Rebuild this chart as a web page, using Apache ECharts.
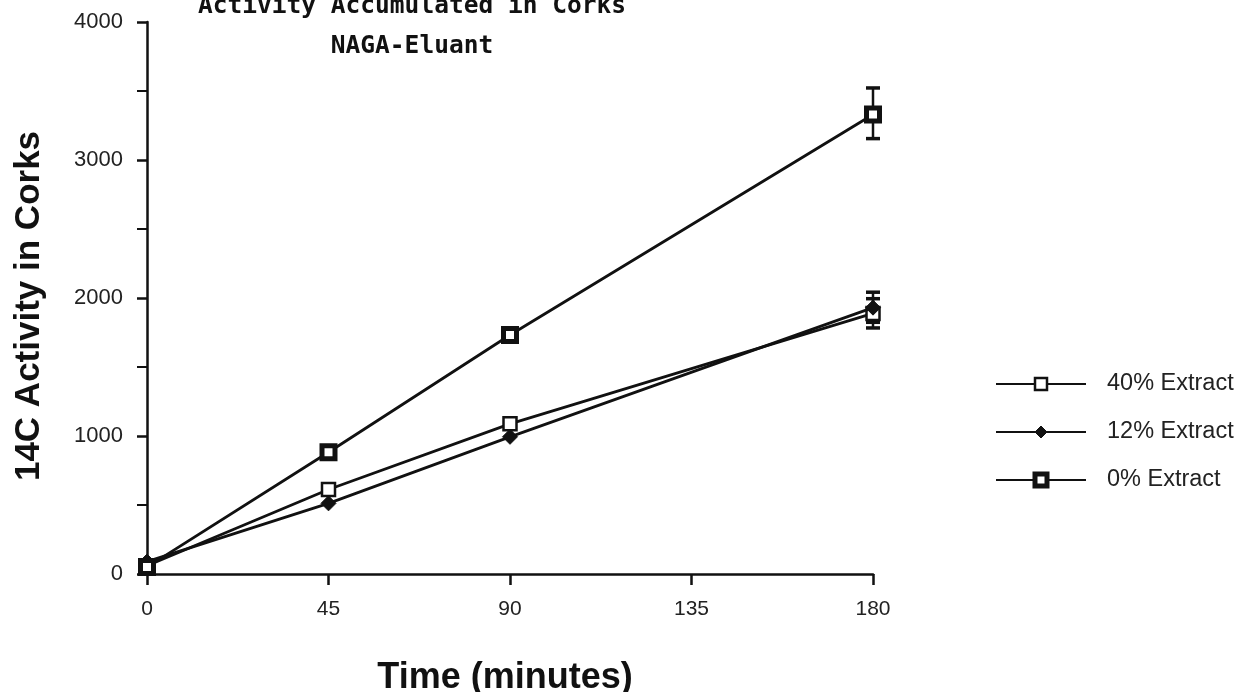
<!DOCTYPE html>
<html>
<head>
<meta charset="utf-8">
<script src="https://cdn.jsdelivr.net/npm/echarts@6/dist/echarts.min.js"></script>
<style>
html,body{margin:0;padding:0;background:#fff;}
#chart{width:1244px;height:692px;}
</style>
</head>
<body>
<div id="chart"></div>
<script>
// ---- data ----
var timeMinutes = [0, 45, 90, 180];
var xTicks = [0, 45, 90, 135, 180];
var yTicks = [0, 1000, 2000, 3000, 4000];
var seriesNames = ['40% Extract', '12% Extract', '0% Extract'];
var extract40 = [60, 612, 1088, 1888];
var extract12 = [90, 512, 994, 1930];
var extract0 = [50, 882, 1732, 3330];
// error bars [time, low, high]
var err40 = [[180, 1783, 1995]];
var err12 = [[180, 1824, 2042]];
var err0 = [[180, 3155, 3522]];

var ink = '#111';

function pairs(xs, ys) { return xs.map(function (x, i) { return [x, ys[i]]; }); }

function errSeries(data) {
  return {
    type: 'custom',
    silent: true,
    z: 1,
    data: data,
    encode: { x: 0, y: [1, 2] },
    renderItem: function (params, api) {
      var x = api.value(0);
      var lo = api.coord([x, api.value(1)]);
      var hi = api.coord([x, api.value(2)]);
      var w = 7;
      return {
        type: 'group',
        children: [
          { type: 'line', shape: { x1: hi[0], y1: hi[1], x2: lo[0], y2: lo[1] }, style: { stroke: ink, lineWidth: 2.5 } },
          { type: 'line', shape: { x1: hi[0] - w, y1: hi[1], x2: hi[0] + w, y2: hi[1] }, style: { stroke: ink, lineWidth: 3.5 } },
          { type: 'line', shape: { x1: lo[0] - w, y1: lo[1], x2: lo[0] + w, y2: lo[1] }, style: { stroke: ink, lineWidth: 3.5 } }
        ]
      };
    }
  };
}

var style40 = { color: '#fff', borderColor: ink, borderWidth: 2.5 };
var style12 = { color: ink, borderColor: ink, borderWidth: 1 };
var style0 = { color: '#fff', borderColor: ink, borderWidth: 5 };

var chart = echarts.init(document.getElementById('chart'));
chart.setOption({
  animation: false,
  backgroundColor: '#fff',
  title: {
    text: 'Activity Accumulated in Corks\nNAGA-Eluant',
    left: 407,
    textAlign: 'center',
    top: -18,
    textStyle: {
      fontFamily: 'DejaVu Sans Mono',
      fontWeight: 'bold',
      fontSize: 24.5,
      lineHeight: 40,
      color: ink
    }
  },
  legend: {
    orient: 'vertical',
    left: 990,
    top: 367,
    itemWidth: 90,
    itemHeight: 15,
    itemGap: 24,
    data: [
      { name: seriesNames[0], itemStyle: style40 },
      { name: seriesNames[1], itemStyle: style12 },
      { name: seriesNames[2], itemStyle: style0 }
    ],
    textStyle: {
      fontFamily: 'Liberation Sans',
      fontSize: 23.5,
      lineHeight: 23,
      color: '#222',
      padding: [0, 0, 0, 16]
    }
  },
  grid: { left: 147, right: 371, top: 22, bottom: 118, containLabel: false, outerBoundsMode: 'none' },
  xAxis: {
    type: 'value',
    min: 0,
    max: 180,
    interval: 45,
    name: 'Time (minutes)',
    nameLocation: 'middle',
    nameGap: 86,
    nameTextStyle: { fontFamily: 'Liberation Sans', fontWeight: 'bold', fontSize: 36, color: ink, padding: [0, 10, 0, 0] },
    axisLine: { lineStyle: { color: ink, width: 2.5 } },
    axisTick: { show: true, inside: false, length: 11, lineStyle: { color: ink, width: 2.5 } },
    axisLabel: {
      fontFamily: 'Liberation Sans', fontSize: 21, color: '#222', margin: 25,
      formatter: function (v) { return xTicks.indexOf(v) >= 0 ? String(v) : ''; }
    },
    splitLine: { show: false }
  },
  yAxis: {
    type: 'value',
    min: 0,
    max: 4000,
    interval: 1000,
    name: '14C Activity in Corks',
    nameLocation: 'middle',
    nameGap: 100,
    nameRotate: 90,
    nameTextStyle: { fontFamily: 'Liberation Sans', fontWeight: 'bold', fontSize: 35, color: ink, padding: [0, 16, 0, 0] },
    axisLine: { show: true, lineStyle: { color: ink, width: 2.5 } },
    axisTick: { show: true, inside: false, length: 10, lineStyle: { color: ink, width: 2.5 } },
    minorTick: { show: true, splitNumber: 2, length: 10, lineStyle: { color: ink, width: 2 } },
    axisLabel: {
      fontFamily: 'Liberation Sans', fontSize: 22, color: '#222', margin: 24,
      formatter: function (v) { return yTicks.indexOf(v) >= 0 ? String(v) : ''; }
    },
    splitLine: { show: false }
  },
  series: [
    errSeries(err40),
    errSeries(err12),
    errSeries(err0),
    {
      name: seriesNames[0],
      type: 'line',
      z: 3,
      data: pairs(timeMinutes, extract40),
      symbol: 'rect',
      symbolSize: 13,
      showAllSymbol: true,
      lineStyle: { color: ink, width: 2.8 },
      itemStyle: style40
    },
    {
      name: seriesNames[1],
      type: 'line',
      z: 4,
      data: pairs(timeMinutes, extract12),
      symbol: 'diamond',
      symbolSize: 15,
      showAllSymbol: true,
      lineStyle: { color: ink, width: 2.8 },
      itemStyle: style12
    },
    {
      name: seriesNames[2],
      type: 'line',
      z: 5,
      data: pairs(timeMinutes, extract0),
      symbol: 'rect',
      symbolSize: 13,
      showAllSymbol: true,
      lineStyle: { color: ink, width: 2.8 },
      itemStyle: style0
    }
  ]
});
</script>
</body>
</html>
